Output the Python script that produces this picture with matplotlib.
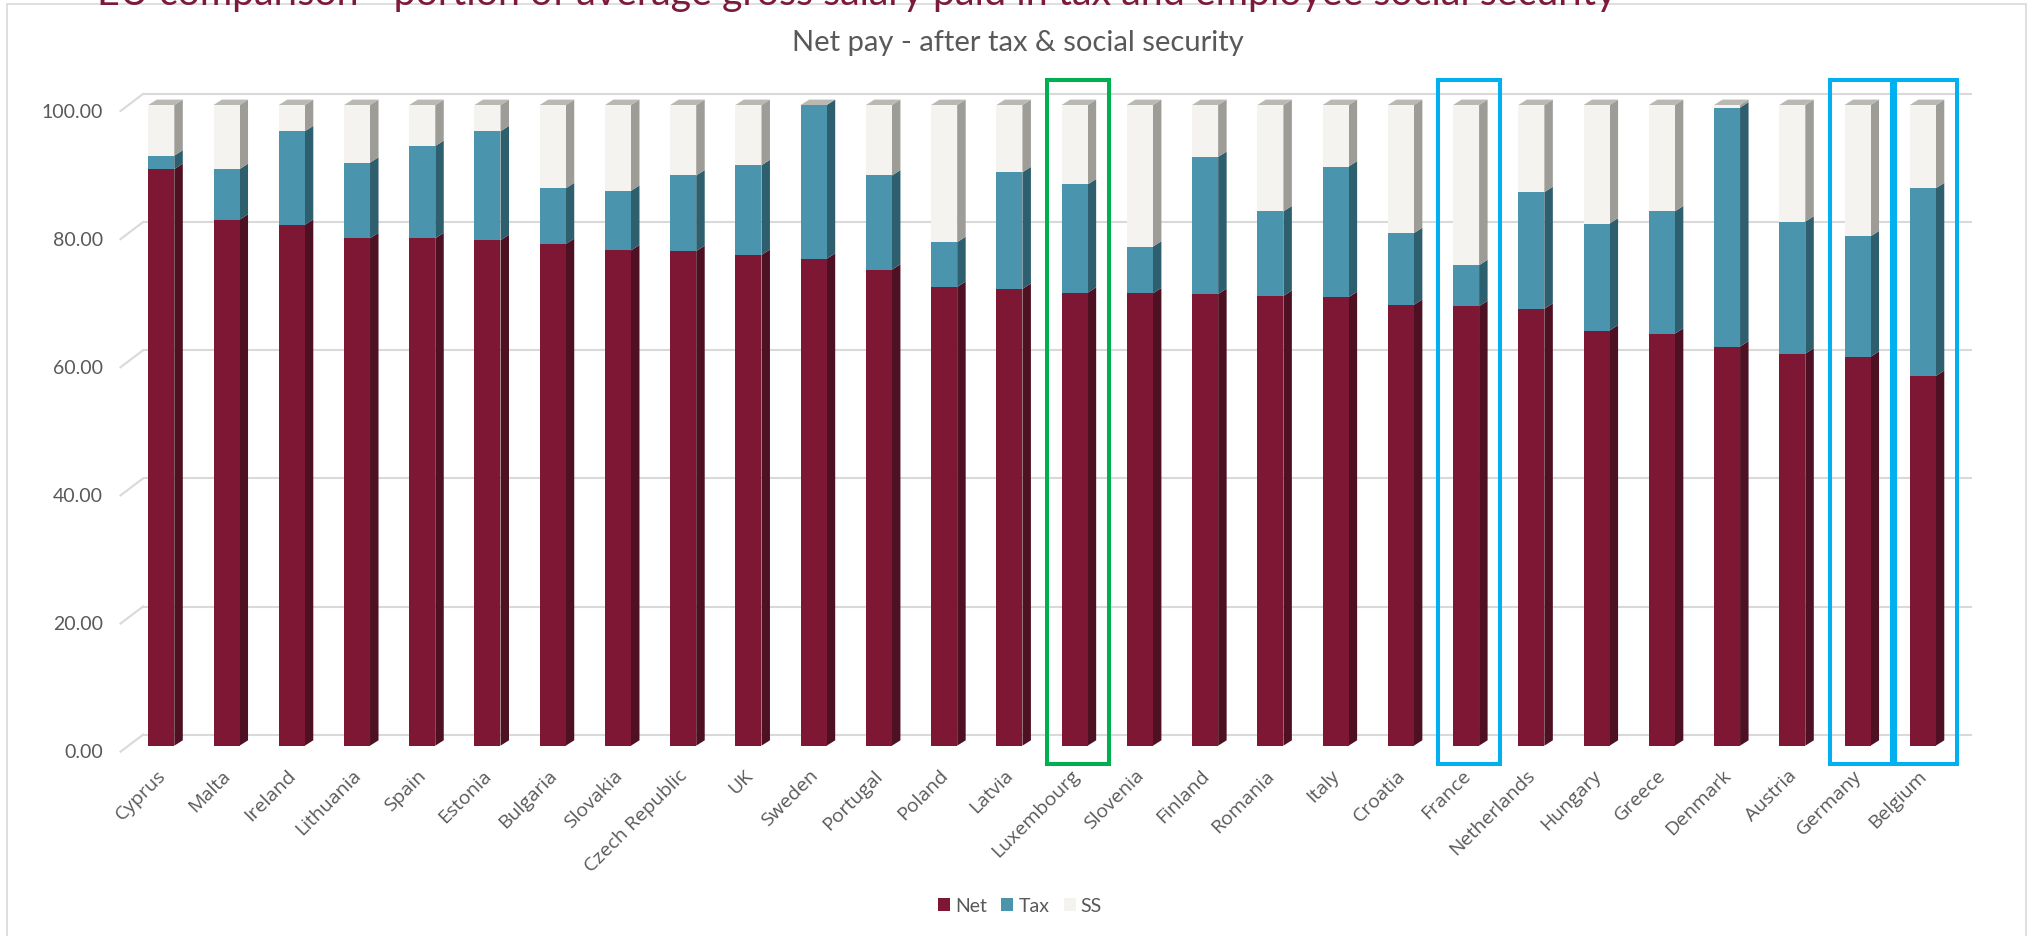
import numpy as np
import matplotlib.pyplot as plt
from matplotlib.patches import Polygon, Rectangle, Patch

countries = ['Cyprus', 'Malta', 'Ireland', 'Lithuania', 'Spain', 'Estonia', 'Bulgaria',
             'Slovakia', 'Czech Republic', 'UK', 'Sweden', 'Portugal', 'Poland', 'Latvia',
             'Luxembourg', 'Slovenia', 'Finland', 'Romania', 'Italy', 'Croatia', 'France',
             'Netherlands', 'Hungary', 'Greece', 'Denmark', 'Austria', 'Germany', 'Belgium']
net = [90.0, 82.1, 81.3, 79.2, 79.2, 78.9, 78.3, 77.3, 77.2, 76.6, 76.0, 74.3, 71.6, 71.3,
       70.7, 70.6, 70.5, 70.2, 70.0, 68.8, 68.6, 68.2, 64.8, 64.3, 62.3, 61.2, 60.7, 57.7]
tax = [2.1, 7.9, 14.6, 11.8, 14.4, 17.0, 8.7, 9.3, 11.8, 14.0, 24.0, 14.7, 7.0, 18.2,
       16.9, 7.3, 21.4, 13.2, 20.4, 11.2, 6.4, 18.2, 16.7, 19.1, 37.3, 20.6, 18.8, 29.3]
ss = [7.9, 10.0, 4.1, 9.0, 6.4, 4.1, 13.0, 13.4, 11.0, 9.4, 0.0, 11.0, 21.4, 10.5,
      12.4, 22.1, 8.1, 16.6, 9.6, 20.0, 25.0, 13.6, 18.5, 16.6, 0.4, 18.2, 20.5, 13.0]
y_ticks = [0, 20, 40, 60, 80, 100]

# countries picked out with a frame
highlight = {'Luxembourg': '#00b050', 'France': '#00b0f0',
             'Germany': '#00b0f0', 'Belgium': '#00b0f0'}

title = 'EU comparison - portion of average gross salary paid in tax and employee social security'
subtitle = 'Net pay - after tax & social security'

narrow = ['Lato', 'DejaVu Sans']
grey_txt = '#595959'
grid_col = '#d9d9d9'

W, H, DPI = 2033, 937, 100
fig = plt.figure(figsize=(W / DPI, H / DPI), dpi=DPI)

# plot area, in pixels
x0_px, step_px = 161.3, 65.24
left_px, right_px = 143, 1972
y0_px, y100_px = 746.7, 106
ax = fig.add_axes([left_px / W, (H - y0_px) / H,
                   (right_px - left_px) / W, (y0_px - y100_px) / H])
xmin = (left_px - x0_px) / step_px
xmax = (right_px - x0_px) / step_px
ax.set_xlim(xmin, xmax)
ax.set_ylim(0, 100)
ax.axis('off')

px_x = 1 / step_px
px_y = 100 / (y0_px - y100_px)

# back wall grid + little floor diagonals at the left
back = 11 * px_y
ax.hlines(np.array(y_ticks) + back, xmin, xmax, color=grid_col, lw=1.5, zorder=0, clip_on=False)
for v in y_ticks:
    ax.plot([xmin - 22.5 * px_x, xmin], [v - 6 * px_y, v + back],
            color=grid_col, lw=1.5, zorder=0, clip_on=False)
    ax.text(xmin - 40 * px_x, v - 6 * px_y, f'{v:.2f}', ha='right', va='center',
            fontsize=14, color=grey_txt, family=narrow)

# pseudo-3D stacked bars
x = np.arange(len(countries))
w = 26 * px_x
ddx, ddy = 8.5 * px_x, 5.4 * px_y
series = [('Net', net, '#7e1734', '#4e1123'),
          ('Tax', tax, '#4b94ae', '#2e5f6e'),
          ('SS', ss, '#f5f3ef', '#9d9c97')]
bottom = np.zeros(len(x))
handles = []
for name, vals, front, side in series:
    vals = np.array(vals)
    for xi, b, h in zip(x, bottom, vals):
        if h <= 0:
            continue
        xr = xi + w / 2
        ax.add_patch(Polygon([(xr, b), (xr + ddx, b + ddy), (xr + ddx, b + h + ddy), (xr, b + h)],
                             closed=True, fc=side, ec='none', zorder=2, clip_on=False))
    ax.bar(x, vals, w, bottom=bottom, color=front, zorder=3, clip_on=False)
    handles.append(Patch(fc=front, label=name))
    bottom += vals

for xi, t in zip(x, bottom):
    ax.add_patch(Polygon([(xi - w / 2, t), (xi - w / 2 + ddx, t + ddy),
                          (xi + w / 2 + ddx, t + ddy), (xi + w / 2, t)],
                         closed=True, fc='#bab8b2', ec='none', zorder=3, clip_on=False))

# category labels
for xi, name in zip(x, countries):
    ax.text(xi - 5 * px_x, -20 * px_y, name, rotation=45, rotation_mode='anchor',
            ha='right', va='top', fontsize=14, color=grey_txt, family='Open Sans')

# frames round the highlighted countries
for name, col in highlight.items():
    i = countries.index(name)
    ax.add_patch(Rectangle((i - 28 * px_x, -18.3 * px_y), 62 * px_x, 100 + 43.3 * px_y,
                           fill=False, ec=col, lw=2.9, zorder=5, clip_on=False))

fig.legend(handles=handles, loc='center', bbox_to_anchor=(1020 / W, (H - 906.7) / H),
           ncol=3, frameon=False, handlelength=0.62, handleheight=0.62,
           handletextpad=0.25, columnspacing=0.75, labelcolor=grey_txt,
           prop={'family': narrow, 'size': 14})

fig.text(97 / W, 1 - 5 / H, title, ha='left', va='baseline', fontsize=28.4,
         color='#7b1a3a', family=narrow)
fig.text(1018 / W, 1 - 43 / H, subtitle, ha='center', va='center', fontsize=21,
         color=grey_txt, family=narrow)

# outer chart border
fig.add_artist(Rectangle((7.5 / W, -0.05), (2026 - 7.5) / W, 1.05 - 5 / H,
                         transform=fig.transFigure, fill=False, ec=grid_col, lw=1.2))

fig.savefig('out.png', dpi=DPI)
